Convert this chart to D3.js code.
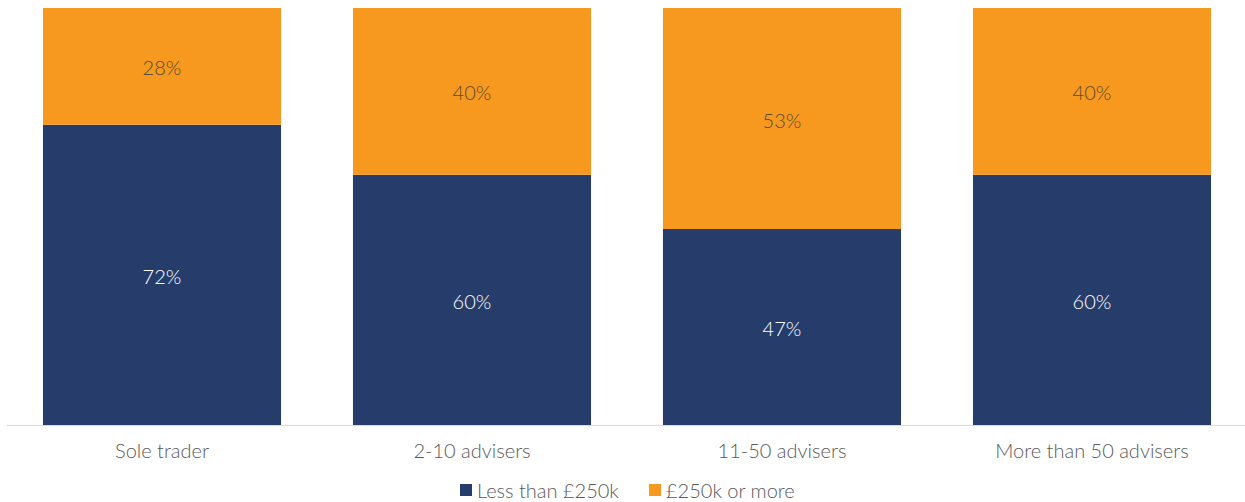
<!DOCTYPE html>
<html>
<head>
<meta charset="utf-8">
<script src="https://cdn.jsdelivr.net/npm/d3@7"></script>
<style>
  html, body { margin: 0; padding: 0; background: #fff; }
  svg { display: block; font-family: Lato, "Open Sans", sans-serif; font-weight: 300; }
</style>
</head>
<body>
<svg id="chart" width="1245" height="502"></svg>
<script>
// Firm size categories and share of firms by revenue band (%)
const categories = ["Sole trader", "2-10 advisers", "11-50 advisers", "More than 50 advisers"];
const lessThan250k = [72, 60, 47, 60];
const over250k = [28, 40, 53, 40];
const seriesNames = ["Less than £250k", "£250k or more"];
const seriesColors = ["#263d6b", "#f7991e"];
const labelColors = ["#ffffff", "#5b4a33"];

const svg = d3.select("#chart");
const W = 1245;
const FS = 20;

const x = d3.scaleBand()
  .domain(categories)
  .range([7, 1247])
  .paddingInner(0.232)
  .paddingOuter(0.116);

const y = d3.scaleLinear()
  .domain([0, 100])
  .range([425, 8]);

const rows = categories.map((c, i) => ({ cat: c, s0: lessThan250k[i], s1: over250k[i] }));
const stacked = d3.stack().keys(["s0", "s1"])(rows);

const layers = svg.selectAll("g.layer")
  .data(stacked)
  .join("g")
  .attr("class", "layer")
  .attr("fill", (d, i) => seriesColors[i]);

layers.selectAll("rect")
  .data(d => d)
  .join("rect")
  .attr("x", d => x(d.data.cat))
  .attr("width", x.bandwidth())
  .attr("y", d => y(d[1]))
  .attr("height", d => y(d[0]) - y(d[1]));

// Value labels centred in each segment
stacked.forEach((layer, li) => {
  svg.append("g").selectAll("text")
    .data(layer)
    .join("text")
    .attr("x", d => x(d.data.cat) + x.bandwidth() / 2)
    .attr("y", d => (y(d[0]) + y(d[1])) / 2 + 2)
    .attr("dy", "0.35em")
    .attr("text-anchor", "middle")
    .attr("font-size", FS)
    .attr("fill", labelColors[li])
    .text(d => (d[1] - d[0]) + "%");
});

// Category axis
const xAxis = svg.append("g")
  .attr("transform", `translate(0,${y(0)})`)
  .call(d3.axisBottom(x).tickSize(0).tickPadding(19));
xAxis.select(".domain").attr("stroke", "#d9d9d9").attr("d", `M7,0.5H${W}`);
xAxis.selectAll("text")
  .attr("font-family", "Lato, 'Open Sans', sans-serif")
  .attr("font-weight", 300)
  .attr("font-size", FS)
  .attr("fill", "#595959");

// Legend
const legendItems = [
  { name: seriesNames[0], color: seriesColors[0], x: 460 },
  { name: seriesNames[1], color: seriesColors[1], x: 649 }
];
const legend = svg.append("g").selectAll("g")
  .data(legendItems)
  .join("g")
  .attr("transform", d => `translate(${d.x},484)`);
legend.append("rect").attr("width", 12).attr("height", 12).attr("fill", d => d.color);
legend.append("text")
  .attr("x", 17).attr("y", 7).attr("dy", "0.35em")
  .attr("font-size", FS).attr("fill", "#595959")
  .text(d => d.name);
</script>
</body>
</html>
